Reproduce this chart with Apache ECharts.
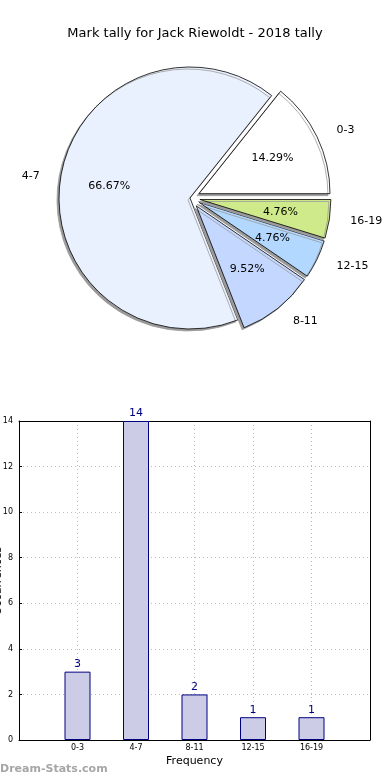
<!DOCTYPE html>
<html><head><meta charset="utf-8">
<script src="https://cdn.jsdelivr.net/npm/echarts@6/dist/echarts.min.js"></script>
<style>html,body{margin:0;padding:0;background:#fff}#c{width:390px;height:780px}</style>
</head><body><div id="c"></div>
<script>
const titleText = 'Mark tally for Jack Riewoldt - 2018 tally';
const categories = ['0-3', '4-7', '8-11', '12-15', '16-19'];
const tallies = [3, 14, 2, 1, 1];
const pieColors = ['#ffffff', '#eaf1fe', '#c4d8ff', '#b3d8ff', '#cfea8a'];
const exploded = [true, false, true, true, true];
const yTicks = { min: 0, max: 14, interval: 2 };
const xAxisName = 'Frequency';
const yAxisName = 'Occurrences';
const watermark = 'Dream-Stats.com';

const FONT = 'DejaVu Sans';
const R = 131;
const center = [190, 198];

const pieData = categories.map((c, i) => ({
  name: c, value: tallies[i], selected: exploded[i],
  itemStyle: { color: pieColors[i] },
  select: { itemStyle: { color: pieColors[i], borderColor: '#000', borderWidth: 0.8 } }
}));
const labelData = categories.map((c, i) => ({
  name: c, value: tallies[i], selected: exploded[i]
}));

const chart = echarts.init(document.getElementById('c'), null, { renderer: 'canvas' });
chart.setOption({
  animation: false,
  backgroundColor: '#fff',
  title: {
    text: titleText, left: 'center', top: 22,
    textStyle: { fontFamily: FONT, fontSize: 13, fontWeight: 'normal', color: '#000' }
  },
  graphic: [{
    type: 'text', left: 0, top: 764,
    style: { text: watermark, fontFamily: FONT, fontSize: 11, fontWeight: 'bold', fill: '#a6a6a6' }
  }, {
    type: 'text', x: -2, y: 581, rotation: Math.PI / 2,
    style: { text: yAxisName, fontFamily: FONT, fontSize: 11, fill: '#000', align: 'center', verticalAlign: 'middle' }
  }],
  grid: { left: 19, right: 20, top: 421, bottom: 40, show: false, containLabel: false, outerBoundsMode: 'none' },
  xAxis: [{
    type: 'value', min: -1, max: 5, interval: 1,
    name: xAxisName, nameLocation: 'middle', nameGap: 16,
    nameTextStyle: { fontFamily: FONT, fontSize: 11, color: '#000' },
    axisLine: { show: true, onZero: false, lineStyle: { color: '#000', width: 1 } },
    axisTick: { show: false },
    axisLabel: {
      fontFamily: FONT, fontSize: 8, color: '#000', margin: 4,
      formatter: v => (categories[v] !== undefined ? categories[v] : '')
    },
    splitLine: { show: true, showMinLine: false, showMaxLine: false, lineStyle: { color: '#bbb', type: [1, 3], width: 1 } }
  }, {
    type: 'value', min: -1, max: 5, interval: 1, position: 'top',
    axisLine: { show: true, onZero: false, lineStyle: { color: '#000', width: 1 } },
    axisTick: { show: false }, axisLabel: { show: false }, splitLine: { show: false }
  }],
  yAxis: [{
    type: 'value', min: yTicks.min, max: yTicks.max, interval: yTicks.interval,
    axisLine: { show: true, onZero: false, lineStyle: { color: '#000', width: 1 } },
    axisTick: { show: true, inside: true, length: 3, lineStyle: { color: '#000' } },
    axisLabel: { fontFamily: FONT, fontSize: 8, color: '#000', margin: 6 },
    splitLine: { show: true, showMinLine: false, showMaxLine: false, lineStyle: { color: '#bbb', type: [1, 3], width: 1 } }
  }, {
    type: 'value', min: yTicks.min, max: yTicks.max, interval: yTicks.interval, position: 'right',
    axisLine: { show: true, onZero: false, lineStyle: { color: '#000', width: 1 } },
    axisTick: { show: false }, axisLabel: { show: false }, splitLine: { show: false }
  }],
  series: [{
    type: 'pie', center: center, radius: [0, R],
    startAngle: 0, clockwise: false,
    selectedMode: 'multiple', selectedOffset: 10,
    avoidLabelOverlap: false,
    emphasis: { disabled: true },
    itemStyle: {
      borderColor: '#000', borderWidth: 0.8,
      shadowColor: '#9a9a9a', shadowBlur: 0, shadowOffsetX: -2, shadowOffsetY: 2
    },
    label: { show: true, position: 'outside', formatter: '{b}', fontFamily: FONT, fontSize: 11, color: '#000' },
    labelLine: { show: false, length: 16, length2: 0 },
    data: pieData
  }, {
    type: 'pie', center: center, radius: [0, R * 1.2],
    startAngle: 0, clockwise: false, silent: true,
    selectedMode: 'multiple', selectedOffset: 10,
    avoidLabelOverlap: false,
    emphasis: { disabled: true },
    itemStyle: { color: 'rgba(0,0,0,0)', borderWidth: 0 },
    select: { itemStyle: { color: 'rgba(0,0,0,0)', borderWidth: 0 } },
    label: { show: true, position: 'inside', formatter: '{d}%', fontFamily: FONT, fontSize: 11, color: '#000' },
    labelLine: { show: false },
    data: labelData
  }, {
    type: 'bar', xAxisIndex: 0, yAxisIndex: 0,
    barWidth: 26,
    itemStyle: { color: '#ccccE6', borderColor: '#000080', borderWidth: 1 },
    label: { show: true, position: 'top', distance: 2, fontFamily: FONT, fontSize: 11, color: '#000080' },
    data: categories.map((c, i) => [i, tallies[i]])
  }]
});
</script></body></html>
